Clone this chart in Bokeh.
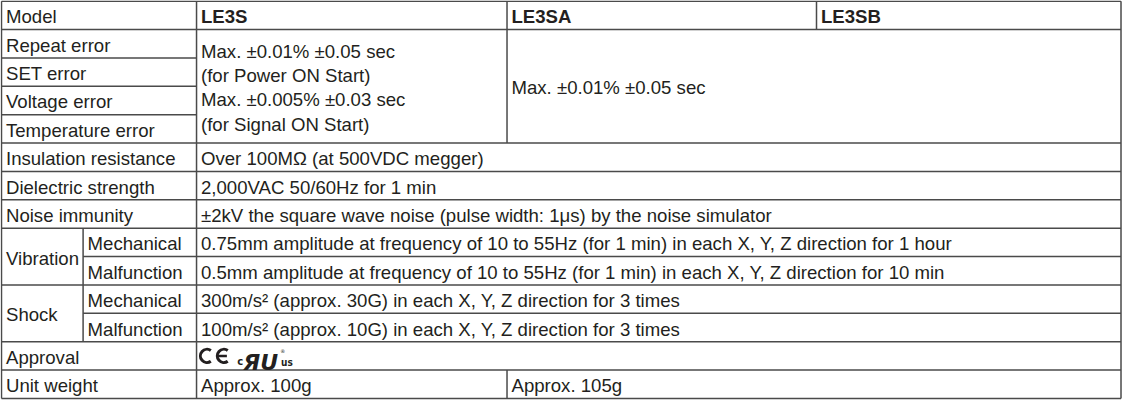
from bokeh.plotting import figure
from bokeh.models import Range1d
from bokeh.core.properties import value
from bokeh.embed import file_html
from bokeh.resources import INLINE

# ---------------- data ----------------
header_label = "Model"
models = ["LE3S", "LE3SA", "LE3SB"]
error_items = ["Repeat error", "SET error", "Voltage error", "Temperature error"]
le3s_error_lines = ["Max. ±0.01% ±0.05 sec", "(for Power ON Start)",
                    "Max. ±0.005% ±0.03 sec", "(for Signal ON Start)"]
le3sab_error = "Max. ±0.01% ±0.05 sec"
common_items = ["Insulation resistance", "Dielectric strength", "Noise immunity"]
common_values = ["Over 100MΩ (at 500VDC megger)",
                 "2,000VAC 50/60Hz for 1 min",
                 "±2kV the square wave noise (pulse width: 1μs) by the noise simulator"]
group_items = ["Vibration", "Shock"]
sub_items = ["Mechanical", "Malfunction"]
group_values = [
    ["0.75mm amplitude at frequency of 10 to 55Hz (for 1 min) in each X, Y, Z direction for 1 hour",
     "0.5mm amplitude at frequency of 10 to 55Hz (for 1 min) in each X, Y, Z direction for 10 min"],
    ["300m/s² (approx. 30G) in each X, Y, Z direction for 3 times",
     "100m/s² (approx. 10G) in each X, Y, Z direction for 3 times"],
]
approval_label = "Approval"
weight_label = "Unit weight"
weight_values = ["Approx. 100g", "Approx. 105g"]

# ---------------- layout ----------------
X0, XS, XV, XA, XB, X1 = 7, 89, 203, 515, 826, 1132
TOP, RH = 4.7, 29.3
NROWS = 1 + len(error_items) + len(common_items) + len(group_items) * len(sub_items) + 2
PAD = 4.5
DY = 1.5
FONT = value("Liberation Sans")
FSIZE = "18.6px"
TXT = "#231f20"
LINE = "#4a4a4a"


def ry(k):
    return TOP + k * RH


def rc(k, span=1):
    return TOP + (k + span / 2.0) * RH + DY


p = figure(width=1122, height=401, output_backend="svg", toolbar_location=None,
           x_range=Range1d(6, 1133.5), y_range=Range1d(start=418, end=4),
           min_border=0, outline_line_color=None)
p.axis.visible = False
p.grid.visible = False
p.background_fill_color = "white"
p.border_fill_color = "white"

tx, ty, tt, tb = [], [], [], []


def put(x, y, s, bold=False):
    tx.append(x); ty.append(y); tt.append(s); tb.append(bold)


# header
row = 0
put(X0 + PAD, rc(row), header_label)
for xs, m in zip([XV, XA, XB], models):
    put(xs + PAD, rc(row), m, True)
row += 1

# errors block
err_start = row
for i, it in enumerate(error_items):
    put(X0 + PAD, rc(row + i), it)
blk_c = (ry(err_start) + ry(err_start + len(error_items))) / 2.0
spacing = 25.0
n = len(le3s_error_lines)
for i, s in enumerate(le3s_error_lines):
    put(XV + PAD, blk_c + (i - (n - 1) / 2.0) * spacing + DY, s)
put(XA + PAD, blk_c + DY, le3sab_error)
row += len(error_items)
err_end = row

# common rows
for it, v in zip(common_items, common_values):
    put(X0 + PAD, rc(row), it)
    put(XV + PAD, rc(row), v)
    row += 1

# grouped rows
grp_start = row
for g, vals in zip(group_items, group_values):
    put(X0 + PAD, rc(row, len(sub_items)), g)
    for j, (si, v) in enumerate(zip(sub_items, vals)):
        put(XS + PAD, rc(row + j), si)
        put(XV + PAD, rc(row + j), v)
    row += len(sub_items)
grp_end = row

# approval
appr_row = row
put(X0 + PAD, rc(row), approval_label)
row += 1

# weight
w_row = row
put(X0 + PAD, rc(row), weight_label)
put(XV + PAD, rc(row), weight_values[0])
put(XA + PAD, rc(row), weight_values[1])
row += 1

normal = [i for i, b in enumerate(tb) if not b]
bold = [i for i, b in enumerate(tb) if b]
for idx, style in ((normal, "normal"), (bold, "bold")):
    p.text(x=[tx[i] for i in idx], y=[ty[i] for i in idx], text=[tt[i] for i in idx],
           text_font=FONT, text_font_size=FSIZE, text_font_style=style,
           text_baseline="middle", text_align="left", text_color=TXT)

# ---------------- grid lines ----------------
hx0, hx1, hy = [], [], []
for k in range(NROWS + 1):
    if err_start < k < err_end:
        hx0.append(X0); hx1.append(XV)
    elif grp_start < k < grp_end and (k - grp_start) % len(sub_items) != 0:
        hx0.append(XS); hx1.append(X1)
    else:
        hx0.append(X0); hx1.append(X1)
    hy.append(ry(k))
p.segment(x0=hx0, y0=hy, x1=hx1, y1=hy, line_color=LINE, line_width=1.5)

vx = [X0, X1, XV, XA, XB, XS, XA]
vy0 = [ry(0), ry(0), ry(0), ry(0), ry(0), ry(grp_start), ry(w_row)]
vy1 = [ry(NROWS), ry(NROWS), ry(NROWS), ry(err_end), ry(1), ry(grp_end), ry(NROWS)]
p.segment(x0=vx, y0=vy0, x1=vx, y1=vy1, line_color=LINE, line_width=1.5)

# ---------------- approval marks ----------------
ac = rc(appr_row) - DY
r = 6.6
p.arc(x=[XV + 10.5, XV + 27.5], y=[ac, ac], radius=r, radius_units="screen",
      start_angle=0.95, end_angle=5.33, line_color=TXT, line_width=3.0)
p.segment(x0=[XV + 21.5], y0=[ac], x1=[XV + 30.5], y1=[ac], line_color=TXT, line_width=2.4)
p.text(x=[XV + 41], y=[ac + 6], text=["c"], text_font=value("DejaVu Sans"),
       text_font_size="10px", text_font_style="bold", text_baseline="alphabetic", text_color=TXT)
p.text(x=[XV + 47], y=[ac + 7], text=["ЯU"], text_font=value("DejaVu Sans"),
       text_font_size="22px", text_font_style="bold italic", text_baseline="alphabetic",
       text_color=TXT)
p.text(x=[XV + 85], y=[ac + 7], text=["us"], text_font=value("DejaVu Sans Condensed"),
       text_font_size="10px", text_font_style="bold", text_baseline="alphabetic", text_color=TXT)
p.text(x=[XV + 84], y=[ac - 5], text=["®"], text_font=value("DejaVu Sans"),
       text_font_size="5px", text_baseline="alphabetic", text_color=TXT)

open("out.html", "w").write(file_html(p, INLINE))
